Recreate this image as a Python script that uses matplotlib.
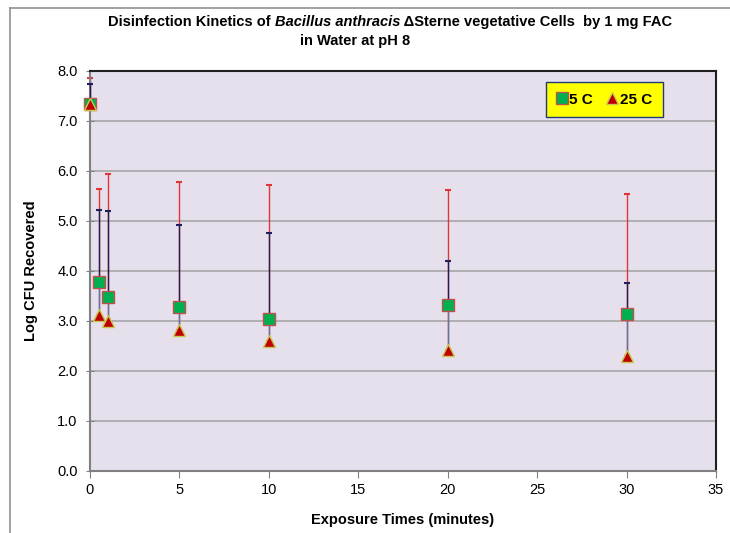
import matplotlib
matplotlib.use('Agg')
import matplotlib.pyplot as plt
from matplotlib.lines import Line2D
import numpy as np

plt.rcParams['font.family'] = ['Liberation Sans', 'DejaVu Sans']

# exposure time (minutes)
times = [0, 0.5, 1, 5, 10, 20, 30]
# 5 C: mean log CFU and top of error bar
c5_mean = [7.35, 3.78, 3.48, 3.29, 3.05, 3.32, 3.15]
c5_upper = [7.75, 5.22, 5.21, 4.93, 4.77, 4.21, 3.77]
# 25 C: mean log CFU and top of error bar
c25_mean = [7.35, 3.13, 3.01, 2.82, 2.61, 2.42, 2.30]
c25_upper = [7.87, 5.65, 5.95, 5.79, 5.72, 5.62, 5.54]

x = np.array(times)
m5 = np.array(c5_mean)
m25 = np.array(c25_mean)
u5 = np.array(c5_upper)
u25 = np.array(c25_upper)

fig = plt.figure(figsize=(7.3, 5.33), dpi=100)
ax = fig.add_axes([90 / 730, 62 / 533, 626 / 730, 400 / 533])
ax.set_facecolor('#E6E0EC')

# gridlines
ax.set_axisbelow(True)
ax.yaxis.grid(True, color='#A6A6A6', lw=1.2)

# error bars (upper only)
eb = ax.errorbar(x, m25, yerr=[np.zeros_like(m25), u25 - m25], fmt='none',
                 ecolor='#E03535', elinewidth=1.0, capsize=2.5, capthick=1.5, zorder=2)
for a in eb.lines[1] + eb.lines[2]:
    a.set_clip_on(False)
ax.vlines(x, m25, m5, color='#5A78A8', lw=1.0, zorder=2)
eb = ax.errorbar(x, m5, yerr=[np.zeros_like(m5), u5 - m5], fmt='none',
                 ecolor='#1F1F5A', elinewidth=1.0, capsize=2.5, capthick=1.5, zorder=3)
for a in eb.lines[1] + eb.lines[2]:
    a.set_clip_on(False)

# markers
ax.plot(x, m5, ls='none', marker='s', ms=8.5, mfc='#00B050', mec='#C0504D',
        mew=1, label='5 C', zorder=4, clip_on=False)
ax.plot(x, m25, ls='none', marker='^', ms=8.5, mfc='#C00000', mec='#C8C850',
        mew=1, label='25 C', zorder=5, clip_on=False)

ax.set_xlim(0, 35)
ax.set_ylim(0, 8)
ax.set_xticks(np.arange(0, 36, 5))
ax.set_yticks(np.arange(0, 8.1, 1))
ax.set_yticklabels(['%.1f' % v for v in np.arange(0, 8.1, 1)])
ax.tick_params(axis='x', direction='out', length=5, color='#808080',
               labelsize=10.5, pad=4)
ax.tick_params(axis='y', direction='inout', length=6, color='#808080',
               labelsize=10.5, pad=6)
for s in ['left', 'bottom']:
    ax.spines[s].set_color('#808080')
    ax.spines[s].set_linewidth(1.5)
for s in ['top', 'right']:
    ax.spines[s].set_color('#202020')
    ax.spines[s].set_linewidth(1.5)

ax.set_xlabel('Exposure Times (minutes)', fontsize=10.5, fontweight='bold', labelpad=11)
ax.set_ylabel('Log CFU Recovered', fontsize=10.5, fontweight='bold', labelpad=14)

leg = ax.legend(loc='upper right', bbox_to_anchor=(0.915, 0.9725), ncol=2,
                frameon=True, fancybox=False, borderaxespad=0, handlelength=0.7,
                handletextpad=0.15, columnspacing=0.9, borderpad=0.7,
                prop={'weight': 'bold', 'size': 11}, markerscale=0.95)
leg.get_frame().set_facecolor('#FFFF00')
leg.get_frame().set_edgecolor('#1F3A7A')
leg.get_frame().set_alpha(1)

# title with italic species name
pieces = [('Disinfection Kinetics of ', 'normal'),
          ('Bacillus anthracis', 'italic'),
          (' \u0394Sterne vegetative Cells  by 1 mg FAC', 'normal')]
texts = []
for s, st in pieces:
    texts.append(fig.text(0, 1 - 22 / 533, s, fontsize=10.5, fontweight='bold',
                          style=st, ha='left', va='center'))
fig.canvas.draw()
r = fig.canvas.get_renderer()
widths = [t.get_window_extent(r).width / (730) for t in texts]
xs = 390 / 730 - sum(widths) / 2
for t, w in zip(texts, widths):
    t.set_x(xs)
    xs += w
fig.text(355 / 730, 1 - 41 / 533, 'in Water at pH 8', fontsize=10.5,
         fontweight='bold', ha='center', va='center')

# outer chart frame
fig.add_artist(Line2D([10 / 730, 10 / 730], [0, 1 - 8 / 533], color='#909090', lw=1.2))
fig.add_artist(Line2D([10 / 730, 1], [1 - 8 / 533, 1 - 8 / 533], color='#909090', lw=1.2))

fig.savefig('out.png', dpi=100)
